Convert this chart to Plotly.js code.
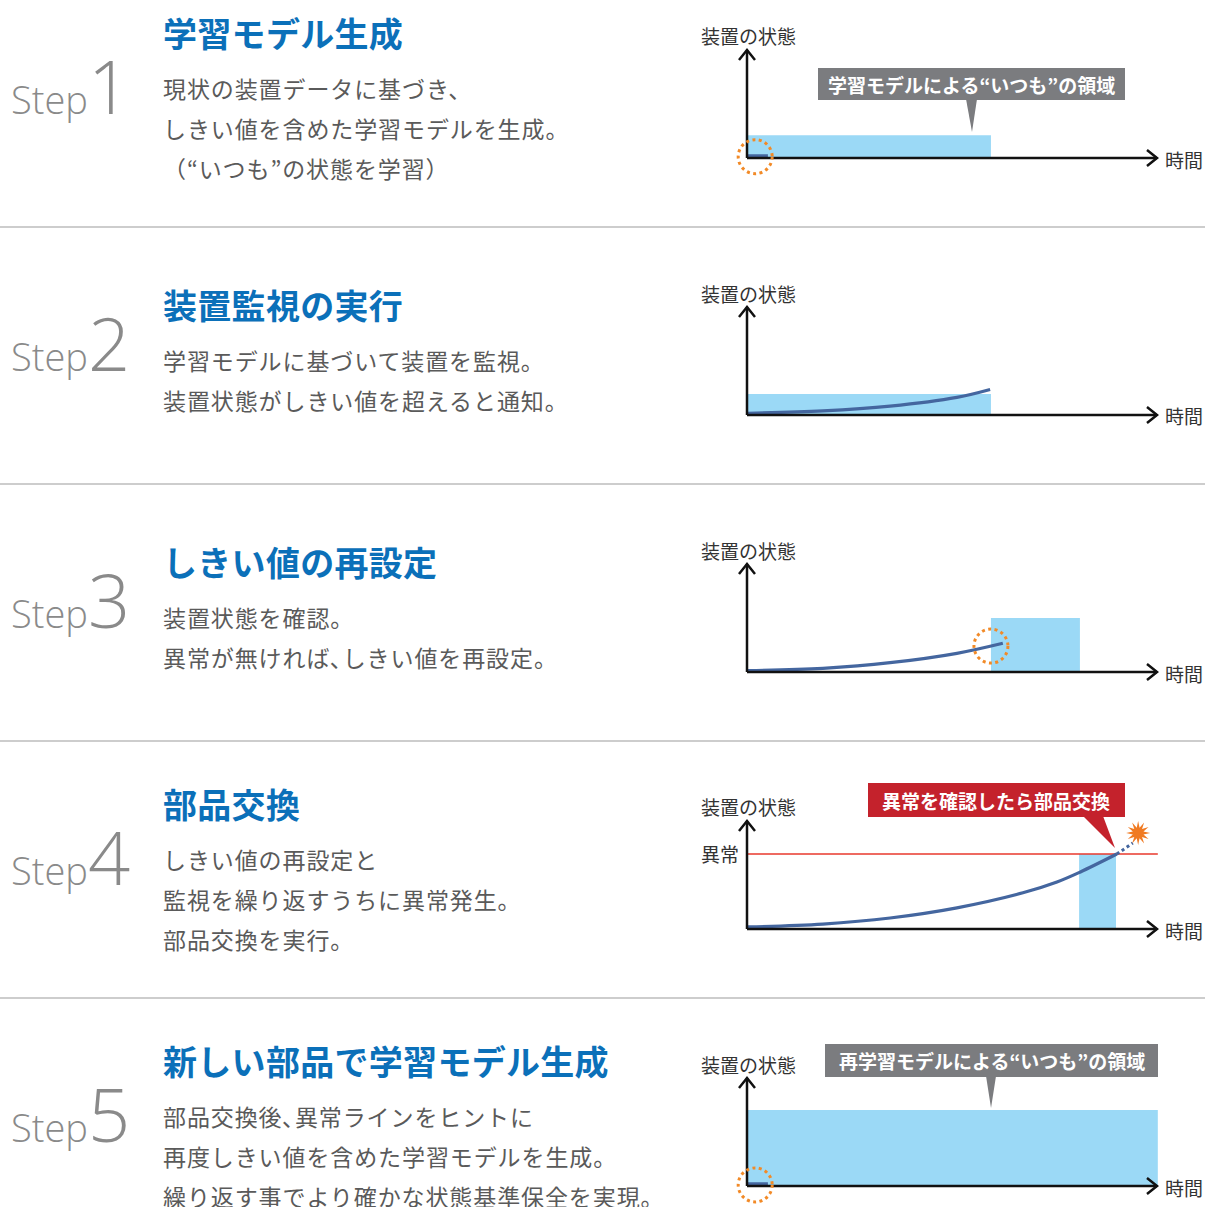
<!DOCTYPE html>
<html>
<head>
<meta charset="utf-8">
<script src="https://cdn.plot.ly/plotly-3.0.1.min.js"></script>
<style>
html,body{margin:0;padding:0;background:#fff;}
#chart{width:1205px;height:1207px;}
</style>
</head>
<body>
<div id="chart"></div>
<script>
// ---------- data ----------
const stepNumbers = ['1', '2', '3', '4', '5'];
const stepTitles = ['学習モデル生成', '装置監視の実行', 'しきい値の再設定', '部品交換', '新しい部品で学習モデル生成'];
const stepDescriptions = [
  ['現状の装置データに基づき、', 'しきい値を含めた学習モデルを生成。', '（“いつも”の状態を学習）'],
  ['学習モデルに基づいて装置を監視。', '装置状態がしきい値を超えると通知。'],
  ['装置状態を確認。', '異常が無ければ､しきい値を再設定。'],
  ['しきい値の再設定と', '監視を繰り返すうちに異常発生。', '部品交換を実行。'],
  ['部品交換後､異常ラインをヒントに', '再度しきい値を含めた学習モデルを生成。', '繰り返す事でより確かな状態基準保全を実現。']
];
const axisYLabel = '装置の状態';
const axisXLabel = '時間';
const anomalyLabel = '異常';

// "いつも" band (learned normal region) per step: time start/end, state upper bound
const bandStart = [0, 0, 59.5, 81, 0];
const bandEnd = [59.5, 59.5, 81.2, 90, 100.2];
const bandTop = [21, 19.4, 50, 69.4, 70.4];

// equipment state curve per step
const curveTime = [
  [0, 5.1],
  [0.2, 18.5, 34.9, 51.2, 59.3],
  [0.2, 18.5, 34.9, 51.2, 62.4],
  [0.2, 18.5, 34.9, 51.2, 67.3, 75.6, 81.2, 90.2],
  [0, 5.1]
];
const curveState = [
  [2.1, 2.1],
  [1.6, 3.8, 8.2, 16.3, 23.6],
  [1.2, 3.4, 8.6, 17.3, 26.6],
  [1.9, 4.6, 10.2, 19.6, 33.5, 43.5, 52.6, 69.4],
  [2.1, 2.1]
];
// projected continuation in step 4 (dotted)
const projTime = [90.2, 94.1];
const projState = [69.4, 79.6];
// anomaly threshold (step 4)
const anomalyThreshold = 69.4;
const anomalyEnd = 100.2;
// failure burst (step 4)
const burstTime = 95.4;
const burstState = 88.9;
// highlighted points (dotted circles): [step index, time, state]
const highlightStep = [0, 2, 4];
const highlightTime = [2, 59.5, 2];
const highlightState = [1.2, 24, 1.0];

// callouts
const calloutText = ['学習モデルによる“いつも”の領域', '異常を確認したら部品交換', '再学習モデルによる“いつも”の領域'];

// ---------- layout helpers ----------
const W = 1205, H = 1207;
const OX = 747, UX = 4.1, UY = 1.08;
const origins = [158, 415, 672, 929, 1186];
const XR = [-5, 106], YR = [-18, 122];
const px = p => p / W;
const py = p => 1 - p / H;

const CJK = '"Noto Sans CJK JP", "Noto Sans", sans-serif';
const BLUE_BAND = '#9bd9f6';
const CURVE = '#44669f';
const ORANGE = '#f28a27';

const layout = {
  width: W, height: H,
  margin: {l: 0, r: 0, t: 0, b: 0},
  paper_bgcolor: '#ffffff', plot_bgcolor: 'rgba(0,0,0,0)',
  showlegend: false,
  shapes: [], annotations: []
};
const traces = [];

for (let i = 0; i < 5; i++) {
  const k = i + 1;
  const xa = 'x' + k, ya = 'y' + k;
  const O = origins[i];
  layout['xaxis' + k] = {
    domain: [px(OX + XR[0] * UX), px(OX + XR[1] * UX)], range: XR,
    visible: false, fixedrange: true, anchor: ya
  };
  layout['yaxis' + k] = {
    domain: [py(O - YR[0] * UY), py(O - YR[1] * UY)], range: YR,
    visible: false, fixedrange: true, anchor: xa
  };
  // band
  layout.shapes.push({type: 'rect', xref: xa, yref: ya, x0: bandStart[i], x1: bandEnd[i], y0: 0, y1: bandTop[i],
    fillcolor: BLUE_BAND, line: {width: 0}, layer: 'below'});
  // curve
  traces.push({type: 'scatter', mode: 'lines', x: curveTime[i], y: curveState[i], xaxis: xa, yaxis: ya,
    line: {color: CURVE, width: 3.2, shape: 'spline', smoothing: 1}, hoverinfo: 'skip', cliponaxis: false});
  // axes
  layout.shapes.push({type: 'line', xref: xa, yref: ya, x0: 0, x1: 100, y0: 0, y1: 0, line: {color: '#111', width: 2.5}});
  layout.shapes.push({type: 'line', xref: xa, yref: ya, x0: 0, x1: 0, y0: 0, y1: 100, line: {color: '#111', width: 2.5}});
  layout.shapes.push({type: 'path', xref: xa, yref: ya, xsizemode: 'pixel', ysizemode: 'pixel', xanchor: 100, yanchor: 0,
    path: 'M -10 8 L 0 0 L -10 -8', line: {color: '#111', width: 2.5}});
  layout.shapes.push({type: 'path', xref: xa, yref: ya, xsizemode: 'pixel', ysizemode: 'pixel', xanchor: 0, yanchor: 100,
    path: 'M -8 -10 L 0 0 L 8 -10', line: {color: '#111', width: 2.5}});
  // axis labels
  layout.annotations.push({xref: 'paper', yref: 'paper', x: px(748), y: py(O - 122), xanchor: 'center', yanchor: 'middle',
    text: axisYLabel, showarrow: false, font: {family: CJK, size: 19, color: '#333'}});
  layout.annotations.push({xref: 'paper', yref: 'paper', x: px(1163), y: py(O + 1), xanchor: 'left', yanchor: 'middle',
    text: axisXLabel, showarrow: false, font: {family: CJK, size: 19, color: '#333'}});

  // left column text
  const baseline = 114 + 257 * i;
  layout.annotations.push({xref: 'paper', yref: 'paper', x: px(9), y: py(baseline - 29), xanchor: 'left', yanchor: 'middle',
    text: 'Step<span style="font-size:74px">' + stepNumbers[i] + '</span>', showarrow: false,
    font: {family: '"Open Sans", "Liberation Sans", sans-serif', size: 38, color: '#8a8a8a', weight: 300}});
  const titleY = [33, 304, 561, 803, 1060][i];
  layout.annotations.push({xref: 'paper', yref: 'paper', x: px(161), y: py(titleY), xanchor: 'left', yanchor: 'middle',
    text: '<span style="letter-spacing:0.3px">' + stepTitles[i] + '</span>', showarrow: false,
    font: {family: CJK, size: 34, color: '#0b70b9', weight: 700}});
  const descY = [88, 360, 617, 859, 1116][i];
  stepDescriptions[i].forEach((line, j) => {
    layout.annotations.push({xref: 'paper', yref: 'paper', x: px(161), y: py(descY + 40 * j), xanchor: 'left', yanchor: 'middle',
      text: '<span style="letter-spacing:0.9px">' + line + '</span>', showarrow: false,
      font: {family: CJK, size: 23, color: '#5a5a5a'}});
  });
}

// step 4 extras
traces.push({type: 'scatter', mode: 'lines', x: projTime, y: projState, xaxis: 'x4', yaxis: 'y4',
  line: {color: CURVE, width: 3, dash: '3px,3px'}, hoverinfo: 'skip'});
layout.shapes.push({type: 'line', xref: 'x4', yref: 'y4', x0: 0, x1: anomalyEnd, y0: anomalyThreshold, y1: anomalyThreshold,
  line: {color: '#e8382d', width: 1.5}, layer: 'below'});
layout.annotations.push({xref: 'paper', yref: 'paper', x: px(699), y: py(853), xanchor: 'left', yanchor: 'middle',
  text: anomalyLabel, showarrow: false, font: {family: CJK, size: 19, color: '#333'}});
// burst
(function () {
  const n = 12, R = 12, r = 5.5;
  let p = '';
  for (let s = 0; s < 2 * n; s++) {
    const a = Math.PI * s / n - Math.PI / 2;
    const rad = s % 2 === 0 ? R : r;
    p += (s === 0 ? 'M ' : ' L ') + (rad * Math.cos(a)).toFixed(2) + ' ' + (rad * Math.sin(a)).toFixed(2);
  }
  layout.shapes.push({type: 'path', xref: 'x4', yref: 'y4', xsizemode: 'pixel', ysizemode: 'pixel',
    xanchor: burstTime, yanchor: burstState, path: p + ' Z', fillcolor: '#f07a22', line: {width: 0}});
})();
// dotted highlight circles
highlightStep.forEach((s, j) => {
  const k = s + 1;
  layout.shapes.push({type: 'circle', xref: 'x' + k, yref: 'y' + k, xsizemode: 'pixel', ysizemode: 'pixel',
    xanchor: highlightTime[j], yanchor: highlightState[j], x0: -17, x1: 17, y0: -17, y1: 17,
    line: {color: ORANGE, width: 3, dash: '3px,3.4px'}, fillcolor: 'rgba(0,0,0,0)'});
});

// callouts (paper space)
function callout(x0, y0, x1, y1, tri, color, text) {
  layout.shapes.push({type: 'rect', xref: 'paper', yref: 'paper', x0: px(x0), x1: px(x1), y0: py(y1), y1: py(y0),
    fillcolor: color, line: {width: 0}});
  layout.shapes.push({type: 'path', xref: 'paper', yref: 'paper',
    path: 'M ' + px(tri[0]) + ' ' + py(y1 - 1) + ' L ' + px(tri[2]) + ' ' + py(tri[3]) + ' L ' + px(tri[1]) + ' ' + py(y1 - 1) + ' Z',
    fillcolor: color, line: {width: 0}});
  layout.annotations.push({xref: 'paper', yref: 'paper', x: px((x0 + x1) / 2), y: py((y0 + y1) / 2), xanchor: 'center', yanchor: 'middle',
    text: '<b>' + text + '</b>', showarrow: false, font: {family: CJK, size: 19, color: '#ffffff'}});
}
callout(818, 68, 1125, 100, [966, 977, 972, 132], '#7b7c7f', calloutText[0]);
callout(868, 783, 1125, 817, [1083, 1103, 1115, 848], '#c4222c', calloutText[1]);
callout(825, 1044, 1158, 1077, [986, 996, 991, 1108], '#7b7c7f', calloutText[2]);

// separators
[227, 484, 741, 998].forEach(y => {
  layout.shapes.push({type: 'line', xref: 'paper', yref: 'paper', x0: 0, x1: 1, y0: py(y), y1: py(y),
    line: {color: '#bdbdbd', width: 1.5}});
});

Plotly.newPlot('chart', traces, layout, {staticPlot: true, displayModeBar: false});
</script>
</body>
</html>
